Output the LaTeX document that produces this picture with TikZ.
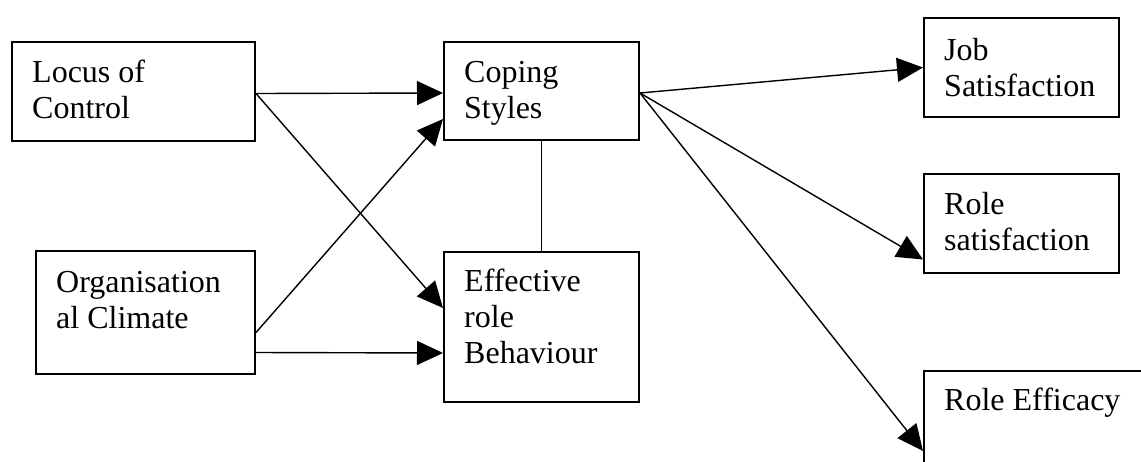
\documentclass[tikz,border=0pt]{standalone}
\usepackage{fontspec}
\setmainfont{Liberation Serif}
\usetikzlibrary{arrows.meta}

\tikzset{
    box/.style={draw, line width=2pt, anchor=north west, inner sep=0pt},
    txt/.style={anchor=base west, align=left, inner sep=0pt, font=\fontsize{32}{36}\selectfont},
    arr/.style={line width=1.4pt, -{Triangle[length=26pt, width=24pt]}}
}

\begin{document}
\begin{tikzpicture}[x=1pt, y=-1pt]
        \useasboundingbox (0,0) rectangle (1141,461);
        \clip (0,0) rectangle (1141,461);

        \node[box, minimum width=243pt, minimum height=99pt] (locus) at (11,41) {};
        \node[box, minimum width=219pt, minimum height=123pt] (org) at (35,250) {};
        \node[box, minimum width=195pt, minimum height=98pt] (coping) at (443,41) {};
        \node[box, minimum width=195pt, minimum height=150pt] (effect) at (443,251) {};
        \node[box, minimum width=195pt, minimum height=99pt] (job) at (923,17) {};
        \node[box, minimum width=195pt, minimum height=99pt] (rolesat) at (923,173) {};
        \node[box, minimum width=300pt, minimum height=150pt] (efficacy) at (923,370) {};

        % text sits on the baseline of its last line
        \node[txt] (locustxt) at ([xshift=21pt, yshift=-77pt]locus.north west) {Locus of\\Control};
        \node[txt] (orgtxt) at ([xshift=21pt, yshift=-78pt]org.north west) {Organisation\\al Climate};
        \node[txt] (copingtxt) at ([xshift=21pt, yshift=-77pt]coping.north west) {Coping\\Styles};
        \node[txt] (effecttxt) at ([xshift=21pt, yshift=-112pt]effect.north west) {Effective\\role\\Behaviour};
        \node[txt] (jobtxt) at ([xshift=21pt, yshift=-79pt]job.north west) {Job\\Satisfaction};
        \node[txt] (rolesattxt) at ([xshift=21pt, yshift=-77pt]rolesat.north west) {Role\\satisfaction};
        \node[txt] (efficacytxt) at ([xshift=21pt, yshift=-40pt]efficacy.north west) {Role Efficacy};

        \draw[arr] ([yshift=-2pt]locus.east) -- ([yshift=-2pt]coping.west);
        \draw[arr] ([yshift=-2pt]locus.east) -- ([yshift=19pt]effect.west);
        \draw[arr] ([yshift=-20pt]org.east) -- ([yshift=-28pt]coping.west);
        \draw[arr] ([yshift=-40pt]org.east) -- ([yshift=-26pt]effect.west);
        \draw[line width=1.4pt] (coping) -- (effect);
        \draw[arr] ([yshift=-2pt]coping.east) -- (job.west);
        \draw[arr] ([yshift=-2pt]coping.east) -- ([yshift=-36pt]rolesat.west);
        \draw[arr] ([yshift=-2pt]coping.east) -- ([yshift=-5pt]efficacy.west);
    \end{tikzpicture}
\end{document}
